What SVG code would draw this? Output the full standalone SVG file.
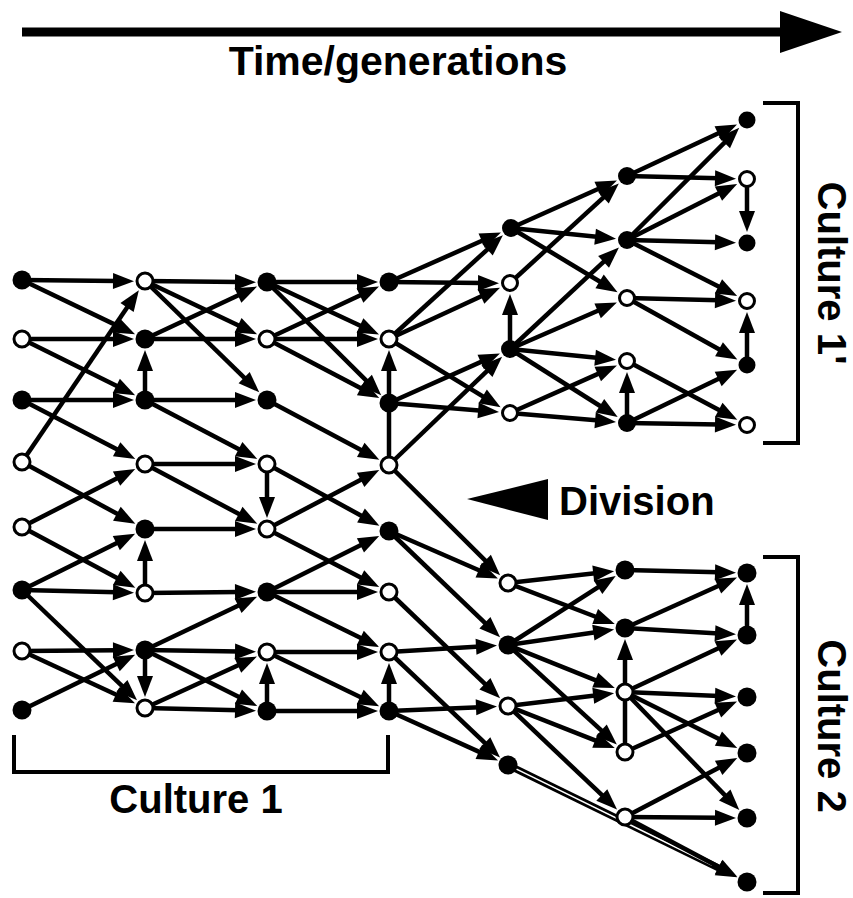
<svg xmlns="http://www.w3.org/2000/svg" width="853" height="898" viewBox="0 0 853 898">
<style>
.c line{stroke:#000;stroke-width:4.5;fill:none}
.a{marker-end:url(#ah)}
.nf circle{fill:#000}
.no circle{fill:#fff;stroke:#000;stroke-width:3}
.t{font-family:"Liberation Sans",Arial,sans-serif;font-weight:bold;fill:#000}
.br{fill:none;stroke:#000;stroke-width:4}
</style>
<defs>
<marker id="ah" viewBox="-5 -9 24 18" markerWidth="24" markerHeight="18" markerUnits="userSpaceOnUse" refX="0" refY="0" orient="auto"><path d="M-4,-8 L17,0 L-4,8 Z" fill="#000"/></marker>
</defs>
<rect width="853" height="898" fill="#fff"/>
<g id="time-arrow">
<line x1="22" y1="32" x2="784" y2="32" stroke="#000" stroke-width="9"/>
<polygon points="780,11 842,32 780,53" fill="#000"/>
<text class="t" x="398" y="75" font-size="41" text-anchor="middle">Time/generations</text>
</g>
<g id="connectors" class="c">
<line class="a" x1="22" y1="280" x2="117" y2="281"/>
<line class="a" x1="22" y1="280" x2="119.7" y2="326.9"/>
<line class="a" x1="22" y1="339" x2="117" y2="339"/>
<line class="a" x1="22" y1="339" x2="119.9" y2="387.6"/>
<line class="a" x1="22" y1="400" x2="117" y2="400"/>
<line class="a" x1="22" y1="400" x2="120.2" y2="451.1"/>
<line class="a" x1="22" y1="462" x2="129.3" y2="304.2"/>
<line class="a" x1="22" y1="462" x2="120.4" y2="515.6"/>
<line class="a" x1="22" y1="527" x2="120.1" y2="476.8"/>
<line class="a" x1="22" y1="527" x2="120.3" y2="579.8"/>
<line class="a" x1="22" y1="590" x2="119.9" y2="541.4"/>
<line class="a" x1="22" y1="590" x2="117" y2="592.3"/>
<line class="a" x1="22" y1="590" x2="124.8" y2="688.6"/>
<line class="a" x1="22" y1="651" x2="117" y2="650.2"/>
<line class="a" x1="22" y1="651" x2="119.6" y2="696.2"/>
<line class="a" x1="22" y1="710" x2="119.8" y2="662.3"/>
<line class="a" x1="145" y1="400" x2="145" y2="367"/>
<line class="a" x1="145" y1="593" x2="145" y2="557"/>
<line class="a" x1="145" y1="650" x2="145" y2="680"/>
<line class="a" x1="145" y1="281" x2="239" y2="282"/>
<line class="a" x1="145" y1="281" x2="241.7" y2="327"/>
<line class="a" x1="145" y1="281" x2="247" y2="380.4"/>
<line class="a" x1="145" y1="339" x2="241.6" y2="293.8"/>
<line class="a" x1="145" y1="339" x2="239" y2="339"/>
<line class="a" x1="145" y1="400" x2="239" y2="400"/>
<line class="a" x1="145" y1="400" x2="242.2" y2="451"/>
<line class="a" x1="145" y1="464" x2="239" y2="464"/>
<line class="a" x1="145" y1="464" x2="242.3" y2="515.8"/>
<line class="a" x1="145" y1="529" x2="239" y2="529"/>
<line class="a" x1="145" y1="593" x2="239" y2="592"/>
<line class="a" x1="145" y1="650" x2="241.7" y2="604"/>
<line class="a" x1="145" y1="650" x2="239" y2="651.5"/>
<line class="a" x1="145" y1="650" x2="242" y2="698.5"/>
<line class="a" x1="145" y1="708" x2="241.5" y2="663.7"/>
<line class="a" x1="145" y1="708" x2="239" y2="710.3"/>
<line class="a" x1="267" y1="464" x2="267" y2="501"/>
<line class="a" x1="267" y1="711" x2="267" y2="680"/>
<line class="a" x1="267" y1="282" x2="361" y2="282"/>
<line class="a" x1="267" y1="282" x2="363.6" y2="327.2"/>
<line class="a" x1="267" y1="282" x2="369.1" y2="383.3"/>
<line class="a" x1="267" y1="339" x2="363.6" y2="293.8"/>
<line class="a" x1="267" y1="339" x2="361" y2="339"/>
<line class="a" x1="267" y1="339" x2="364.2" y2="390"/>
<line class="a" x1="267" y1="400" x2="364.3" y2="451.8"/>
<line class="a" x1="267" y1="464" x2="364.5" y2="517.5"/>
<line class="a" x1="267" y1="529" x2="364.2" y2="478"/>
<line class="a" x1="267" y1="529" x2="364.1" y2="579.2"/>
<line class="a" x1="267" y1="592" x2="364" y2="543.5"/>
<line class="a" x1="267" y1="592" x2="361" y2="592"/>
<line class="a" x1="267" y1="592" x2="363.9" y2="639.6"/>
<line class="a" x1="267" y1="652" x2="361" y2="652"/>
<line class="a" x1="267" y1="652" x2="363.8" y2="698.8"/>
<line class="a" x1="267" y1="711" x2="361" y2="711"/>
<line class="a" x1="389" y1="403" x2="389" y2="367"/>
<line x1="389" y1="465" x2="389" y2="403"/>
<line class="a" x1="389" y1="711" x2="389" y2="680"/>
<line class="a" x1="389" y1="282" x2="485.4" y2="239.3"/>
<line class="a" x1="389" y1="282" x2="482" y2="283"/>
<line class="a" x1="389" y1="339" x2="490.3" y2="246.8"/>
<line class="a" x1="389" y1="339" x2="484.6" y2="294.8"/>
<line class="a" x1="389" y1="339" x2="486.1" y2="398.4"/>
<line class="a" x1="389" y1="403" x2="484.4" y2="360.4"/>
<line class="a" x1="389" y1="403" x2="482.1" y2="410.7"/>
<line class="a" x1="389" y1="465" x2="489.8" y2="368.4"/>
<line class="a" x1="389" y1="465" x2="488.1" y2="563.3"/>
<line class="a" x1="389" y1="531" x2="482.4" y2="571.8"/>
<line class="a" x1="389" y1="531" x2="487.8" y2="625.6"/>
<line class="a" x1="389" y1="592" x2="487.8" y2="686.6"/>
<line class="a" x1="389" y1="652" x2="480" y2="646.6"/>
<line class="a" x1="389" y1="652" x2="487.7" y2="745.7"/>
<line class="a" x1="389" y1="711" x2="480" y2="707.2"/>
<line class="a" x1="389" y1="711" x2="482.5" y2="753.4"/>
<line class="a" x1="511" y1="228" x2="601.4" y2="187.5"/>
<line class="a" x1="511" y1="228" x2="599.1" y2="237.1"/>
<line class="a" x1="511" y1="228" x2="603" y2="283.5"/>
<line class="a" x1="510" y1="283" x2="606.3" y2="194.9"/>
<line class="a" x1="510" y1="349" x2="606.5" y2="259.1"/>
<line class="a" x1="510" y1="349" x2="601.3" y2="309.2"/>
<line class="a" x1="510" y1="349" x2="599.1" y2="358.1"/>
<line class="a" x1="510" y1="349" x2="603.3" y2="408"/>
<line class="a" x1="510" y1="413" x2="601.4" y2="372.4"/>
<line class="a" x1="510" y1="413" x2="599.1" y2="420.6"/>
<line class="a" x1="510" y1="349" x2="510" y2="311"/>
<line class="a" x1="627" y1="423" x2="627" y2="389"/>
<line class="a" x1="627" y1="176" x2="721.6" y2="131.8"/>
<line class="a" x1="627" y1="176" x2="719" y2="178.3"/>
<line class="a" x1="627" y1="240" x2="727.2" y2="139.8"/>
<line class="a" x1="627" y1="240" x2="722" y2="191.7"/>
<line class="a" x1="627" y1="240" x2="719" y2="242.3"/>
<line class="a" x1="627" y1="240" x2="722" y2="288.3"/>
<line class="a" x1="627" y1="298" x2="719" y2="300.3"/>
<line class="a" x1="627" y1="298" x2="722.5" y2="351.3"/>
<line class="a" x1="627" y1="361" x2="722.3" y2="411.8"/>
<line class="a" x1="627" y1="423" x2="721.8" y2="377.2"/>
<line class="a" x1="627" y1="423" x2="719" y2="424.5"/>
<line class="a" x1="747" y1="179" x2="747" y2="215"/>
<line class="a" x1="747" y1="365" x2="747" y2="329"/>
<line class="a" x1="508" y1="583" x2="597.2" y2="573.1"/>
<line class="a" x1="508" y1="583" x2="598.9" y2="618"/>
<line class="a" x1="508" y1="645" x2="601.4" y2="585.1"/>
<line class="a" x1="508" y1="645" x2="597.3" y2="632"/>
<line class="a" x1="508" y1="645" x2="599" y2="681.6"/>
<line class="a" x1="508" y1="645" x2="604.3" y2="733.1"/>
<line class="a" x1="508" y1="706" x2="597.2" y2="695.3"/>
<line class="a" x1="508" y1="706" x2="598.9" y2="741.8"/>
<line class="a" x1="508" y1="706" x2="604.7" y2="797.7"/>
<line class="a" x1="508" y1="765" x2="721.9" y2="869.7" style="stroke-width:7"/>
<line x1="515" y1="768.4" x2="712" y2="865" style="stroke:#fff;stroke-width:1.6"/>
<line class="a" x1="625" y1="692" x2="625" y2="656"/>
<line x1="625" y1="692" x2="625" y2="752"/>
<line class="a" x1="625" y1="570" x2="719" y2="572.3"/>
<line class="a" x1="625" y1="628" x2="721.5" y2="584.5"/>
<line class="a" x1="625" y1="628" x2="719" y2="633.4"/>
<line class="a" x1="625" y1="692" x2="721.6" y2="646.8"/>
<line class="a" x1="625" y1="692" x2="719" y2="695.9"/>
<line class="a" x1="625" y1="692" x2="722" y2="740.5"/>
<line class="a" x1="625" y1="692" x2="727.5" y2="797.9"/>
<line class="a" x1="625" y1="752" x2="721.5" y2="708.5"/>
<line class="a" x1="625" y1="817" x2="722.2" y2="766"/>
<line class="a" x1="625" y1="817" x2="719" y2="817.8"/>
<line class="a" x1="625" y1="817" x2="722.3" y2="868.8"/>
<line class="a" x1="747" y1="635" x2="747" y2="601"/>
</g>
<g id="nodes">
<g id="a0" class="nf"><circle cx="22" cy="280" r="9.5"/></g>
<g id="a1" class="no"><circle cx="22" cy="339" r="8"/></g>
<g id="a2" class="nf"><circle cx="22" cy="400" r="9.5"/></g>
<g id="a3" class="no"><circle cx="22" cy="462" r="8"/></g>
<g id="a4" class="no"><circle cx="22" cy="527" r="8"/></g>
<g id="a5" class="nf"><circle cx="22" cy="590" r="9.5"/></g>
<g id="a6" class="no"><circle cx="22" cy="651" r="8"/></g>
<g id="a7" class="nf"><circle cx="22" cy="710" r="9.5"/></g>
<g id="b0" class="no"><circle cx="145" cy="281" r="8"/></g>
<g id="b1" class="nf"><circle cx="145" cy="339" r="9.5"/></g>
<g id="b2" class="nf"><circle cx="145" cy="400" r="9.5"/></g>
<g id="b3" class="no"><circle cx="145" cy="464" r="8"/></g>
<g id="b4" class="nf"><circle cx="145" cy="529" r="9.5"/></g>
<g id="b5" class="no"><circle cx="145" cy="593" r="8"/></g>
<g id="b6" class="nf"><circle cx="145" cy="650" r="9.5"/></g>
<g id="b7" class="no"><circle cx="145" cy="708" r="8"/></g>
<g id="c0" class="nf"><circle cx="267" cy="282" r="9.5"/></g>
<g id="c1" class="no"><circle cx="267" cy="339" r="8"/></g>
<g id="c2" class="nf"><circle cx="267" cy="400" r="9.5"/></g>
<g id="c3" class="no"><circle cx="267" cy="464" r="8"/></g>
<g id="c4" class="no"><circle cx="267" cy="529" r="8"/></g>
<g id="c5" class="nf"><circle cx="267" cy="592" r="9.5"/></g>
<g id="c6" class="no"><circle cx="267" cy="652" r="8"/></g>
<g id="c7" class="nf"><circle cx="267" cy="711" r="9.5"/></g>
<g id="d0" class="nf"><circle cx="389" cy="282" r="9.5"/></g>
<g id="d1" class="no"><circle cx="389" cy="339" r="8"/></g>
<g id="d2" class="nf"><circle cx="389" cy="403" r="9.5"/></g>
<g id="d3" class="no"><circle cx="389" cy="465" r="8"/></g>
<g id="d4" class="nf"><circle cx="389" cy="531" r="9.5"/></g>
<g id="d5" class="no"><circle cx="389" cy="592" r="8"/></g>
<g id="d6" class="no"><circle cx="389" cy="652" r="8"/></g>
<g id="d7" class="nf"><circle cx="389" cy="711" r="9.5"/></g>
<g id="e0" class="nf"><circle cx="511" cy="228" r="9"/></g>
<g id="e1" class="no"><circle cx="510" cy="283" r="7.5"/></g>
<g id="e2" class="nf"><circle cx="510" cy="349" r="9"/></g>
<g id="e3" class="no"><circle cx="510" cy="413" r="7.5"/></g>
<g id="f0" class="nf"><circle cx="627" cy="176" r="9"/></g>
<g id="f1" class="nf"><circle cx="627" cy="240" r="9"/></g>
<g id="f2" class="no"><circle cx="627" cy="298" r="7.5"/></g>
<g id="f3" class="no"><circle cx="627" cy="361" r="7.5"/></g>
<g id="f4" class="nf"><circle cx="627" cy="423" r="9"/></g>
<g id="g0" class="nf"><circle cx="747" cy="120" r="8.5"/></g>
<g id="g1" class="no"><circle cx="747" cy="179" r="7.5"/></g>
<g id="g2" class="nf"><circle cx="747" cy="243" r="8.5"/></g>
<g id="g3" class="no"><circle cx="747" cy="301" r="7.5"/></g>
<g id="g4" class="nf"><circle cx="747" cy="365" r="8.5"/></g>
<g id="g5" class="no"><circle cx="747" cy="425" r="7.5"/></g>
<g id="h0" class="no"><circle cx="508" cy="583" r="8"/></g>
<g id="h1" class="nf"><circle cx="508" cy="645" r="9.5"/></g>
<g id="h2" class="no"><circle cx="508" cy="706" r="8"/></g>
<g id="h3" class="nf"><circle cx="508" cy="765" r="9.5"/></g>
<g id="i0" class="nf"><circle cx="625" cy="570" r="9.5"/></g>
<g id="i1" class="nf"><circle cx="625" cy="628" r="9.5"/></g>
<g id="i2" class="no"><circle cx="625" cy="692" r="8"/></g>
<g id="i3" class="no"><circle cx="625" cy="752" r="8"/></g>
<g id="i4" class="no"><circle cx="625" cy="817" r="8"/></g>
<g id="j0" class="nf"><circle cx="747" cy="573" r="9.5"/></g>
<g id="j1" class="nf"><circle cx="747" cy="635" r="9.5"/></g>
<g id="j2" class="nf"><circle cx="747" cy="697" r="9.5"/></g>
<g id="j3" class="nf"><circle cx="747" cy="753" r="9.5"/></g>
<g id="j4" class="nf"><circle cx="747" cy="818" r="9.5"/></g>
<g id="j5" class="nf"><circle cx="747" cy="882" r="9.5"/></g>
</g>
<g id="division">
<polygon points="467,499 548,479 548,520" fill="#000"/>
<text class="t" x="559" y="515" font-size="40">Division</text>
</g>
<g id="culture1">
<polyline class="br" points="14,735 14,772 388,772 388,735"/>
<text class="t" x="196" y="813" font-size="40" text-anchor="middle">Culture 1</text>
</g>
<g id="culture1p">
<polyline class="br" points="763,103 798,103 798,443 763,443"/>
<text class="t" font-size="40" text-anchor="middle" transform="translate(818,273) rotate(90)">Culture 1'</text>
</g>
<g id="culture2">
<polyline class="br" points="763,557 798,557 798,893 763,893"/>
<text class="t" font-size="40" text-anchor="middle" transform="translate(818,726) rotate(90)">Culture 2</text>
</g>
</svg>
